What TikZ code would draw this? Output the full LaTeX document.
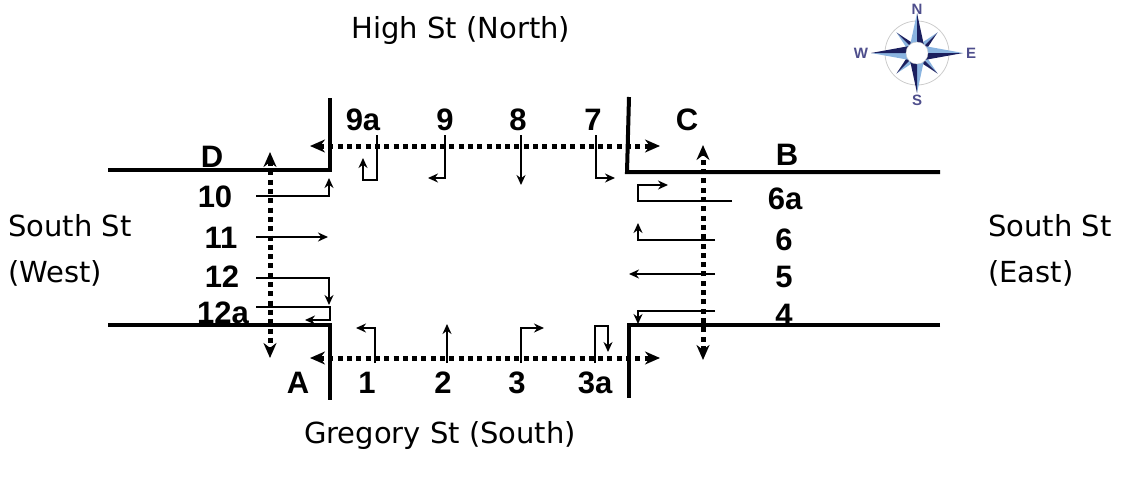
\documentclass[tikz,border=0pt]{standalone}
\usepackage{fontspec}
\setmainfont{DejaVu Sans}
\newfontfamily\lanefont{Liberation Sans}
\usetikzlibrary{arrows.meta}
\definecolor{rosedark}{HTML}{1B1F5E}
\definecolor{roselight}{HTML}{8AB4E0}
\definecolor{roseletter}{HTML}{4E4E8C}

\begin{document}
\begin{tikzpicture}[x=1pt,y=-1pt]
    \tikzset{road/.style={line width=4pt},
      crossing/.style={line width=5pt,dash pattern=on 5pt off 4.3pt,
        {Stealth[length=15pt,width=13pt]}-{Stealth[length=15pt,width=13pt]}},
      lane/.style={line width=1.5pt,-{Stealth[length=10pt,width=9pt]}},
      movement/.style={font=\lanefont\bfseries\fontsize{31}{31}\selectfont,inner sep=0pt},
      street/.style={font=\fontsize{29}{29}\selectfont,inner sep=0pt},
      roseletter/.style={font=\lanefont\bfseries\fontsize{15}{15}\selectfont,text=roseletter,inner sep=0pt}}
    \useasboundingbox (0,0) rectangle (1130,479);
    \coordinate (NWend) at (108,170); \coordinate (NWcorner) at (330,170); \coordinate (NWtop) at (330,98);
    \coordinate (SWend) at (108,325); \coordinate (SWcorner) at (330,325); \coordinate (SWbot) at (330,400);
    \coordinate (NEtop) at (629,97); \coordinate (NEcorner) at (627,172); \coordinate (NEend) at (940,172);
    \coordinate (SEend) at (940,325); \coordinate (SEcorner) at (629,325); \coordinate (SEbot) at (629,398);
    \draw[road] (NWend) -- (NWcorner) -- (NWtop);
    \draw[road] (SWend) -- (SWcorner) -- (SWbot);
    \draw[road] (NEtop) -- (NEcorner) -- (NEend);
    \draw[road] (SEend) -- (SEcorner) -- (SEbot);
    \coordinate (Dtop) at (270,152); \coordinate (Dbot) at (270,358);
    \coordinate (Ctop) at (703,145); \coordinate (Cbot) at (703,360);
    \coordinate (Nwest) at (310,146); \coordinate (Neast) at (660,146);
    \coordinate (Swest) at (310,358); \coordinate (Seast) at (660,358);
    \draw[crossing] (Nwest) -- (Neast);
    \draw[crossing] (Swest) -- (Seast);
    \draw[crossing] (Dtop) -- (Dbot);
    \draw[crossing] (Cbot) -- (Ctop);
    \draw[lane] (377,135) -- (377,180) -- (363,180) -- (363,158);
    \draw[lane] (445,135) -- (445,178) -- (428,178);
    \draw[lane] (521,135) -- (521,185);
    \draw[lane] (596,135) -- (596,178) -- (615,178);
    \draw[lane] (256,196) -- (329,196) -- (329,178);
    \draw[lane] (256,237) -- (328,237);
    \draw[lane] (256,278) -- (329,278) -- (329,305);
    \draw[lane] (256,307) -- (330,307) -- (330,320) -- (305,320);
    \draw[lane] (732,201) -- (638,201) -- (638,185) -- (668,185);
    \draw[lane] (715,240) -- (638,240) -- (638,223);
    \draw[lane] (715,274) -- (629,274);
    \draw[lane] (715,311) -- (638,311) -- (638,324);
    \draw[lane] (375,363) -- (375,328) -- (356,328);
    \draw[lane] (447,363) -- (447,324);
    \draw[lane] (521,363) -- (521,328) -- (544,328);
    \draw[lane] (595,363) -- (595,326) -- (608,326) -- (608,352);
    \foreach \lbl/\px/\py in {D/212/157,C/687/120,B/787/155,A/298/383,
        9a/363/120,9/445/120,8/518/120,7/593/120,
        10/215/197,11/221/238,12/222/277,12a/223/313,
        6a/785/199,6/784/240,5/784/277,4/784/315,
        1/367/383,2/443/383,3/517/383,3a/595/383}
      \node[movement] (m\lbl) at (\px,\py) {\lbl};
    \node[street] (north) at (461,30) {High St (North)};
    \node[street] (south) at (440,435) {Gregory St (South)};
    \node[street,anchor=west] (westA) at (8,226) {South St};
    \node[street,anchor=west] (westB) at (8,273) {(West)};
    \node[street,anchor=west] (eastA) at (988,226) {South St};
    \node[street,anchor=west] (eastB) at (988,273) {(East)};
    \begin{scope}[shift={(917,53)},y=1pt]
      \draw[gray!40,line width=0.8pt] (0,0) circle (32);
      \foreach \a in {45,135,225,315}{
        \fill[roselight] (0,0) -- (\a:29) -- (\a+45:7) -- cycle;
        \fill[rosedark] (0,0) -- (\a:29) -- (\a-45:7) -- cycle;
      }
      \foreach \a/\len in {0/46,90/40,180/46,270/40}{
        \fill[roselight] (0,0) -- (\a:\len) -- (\a+45:10) -- cycle;
        \fill[rosedark] (0,0) -- (\a:\len) -- (\a-45:10) -- cycle;
      }
      \fill[white] (0,0) circle (11);
      \draw[gray!40] (0,0) circle (11);
    \end{scope}
    \node[roseletter] (roseN) at (917,9) {N};
    \node[roseletter] (roseS) at (917,100) {S};
    \node[roseletter] (roseW) at (861,53) {W};
    \node[roseletter] (roseE) at (971,53) {E};
\end{tikzpicture}
\end{document}
